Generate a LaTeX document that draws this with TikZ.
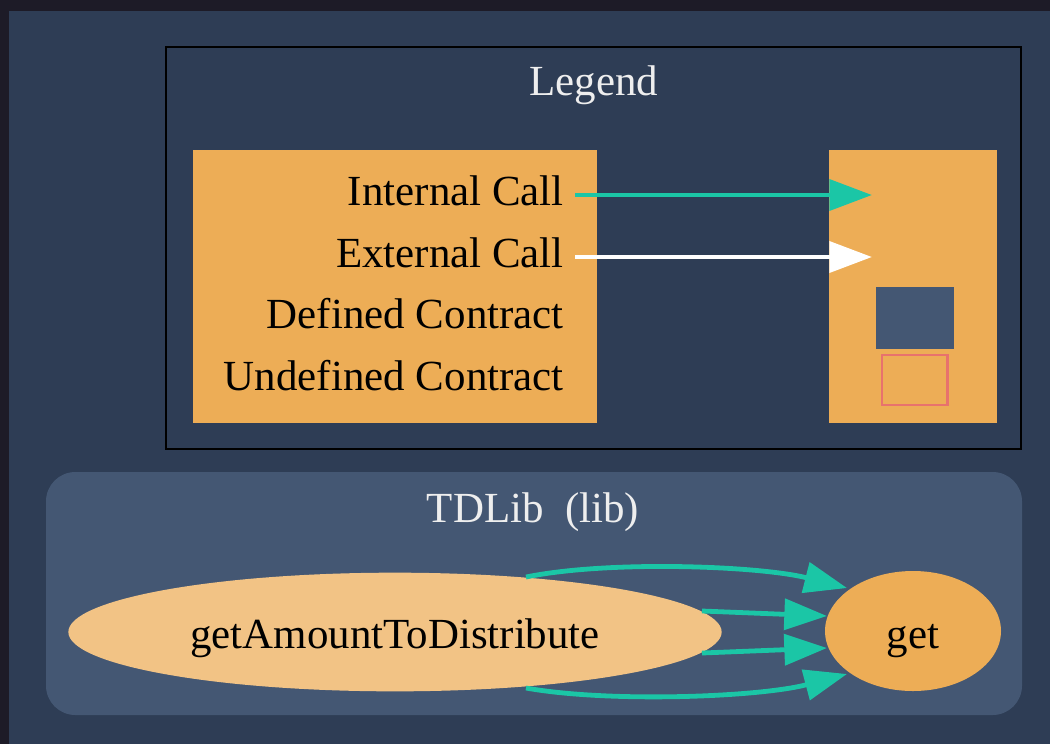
\documentclass[tikz,border=0pt]{standalone}
\usepackage{fontspec}
\setmainfont{Liberation Serif}
\usetikzlibrary{arrows.meta,shapes.geometric}
\definecolor{pagebg}{HTML}{1D1B27}
\definecolor{mainbg}{HTML}{2E3D55}
\definecolor{clusterbg}{HTML}{445773}
\definecolor{legorange}{HTML}{EDAD56}
\definecolor{nodelight}{HTML}{F2C385}
\definecolor{teal}{HTML}{1BC6A6}
\definecolor{undefred}{HTML}{E8726D}
\definecolor{titletext}{HTML}{EEEEEE}
\tikzset{
  gvfont/.style={font=\fontsize{32.2}{38}\selectfont},
  legtext/.style={gvfont, anchor=base east, inner sep=0pt, text=black},
  title/.style={gvfont, anchor=base, inner sep=0pt, text=titletext},
  gvhead/.style={-{Triangle[length=32pt,width=23pt]}},
  internal/.style={draw=teal, line width=3.6pt, gvhead},
  external/.style={draw=white, line width=3.6pt, gvhead},
  funcnode/.style={ellipse, inner sep=0pt, gvfont, text=black}
}
\begin{document}
\begin{tikzpicture}[x=0.75pt,y=-0.75pt]
\useasboundingbox (0,0) rectangle (1050,744);
\fill[pagebg] (0,0) rectangle (1050,744);
\fill[mainbg] (9,11) rectangle (1050,744);
% legend
\draw[black, line width=2pt] (166,47) rectangle (1021,449);
\node[title] (legtitle) at (594,95) {Legend};
\fill[legorange] (193,150) rectangle (597,423);
\fill[legorange] (829,150) rectangle (997,423);
\node[legtext] (lic) at (564,205) {Internal Call};
\node[legtext] (lec) at (564,267) {External Call};
\node[legtext] (ldc) at (564,328) {Defined Contract};
\node[legtext] (luc) at (564,390) {Undefined Contract};
\coordinate (ics) at (575,195);
\coordinate (ice) at (872,195);
\coordinate (ecs) at (575,257);
\coordinate (ece) at (872,257);
\draw[internal] (ics) -- (ice);
\draw[external] (ecs) -- (ece);
\node[fill=clusterbg, minimum width=58.5pt, minimum height=46.5pt, inner sep=0pt] (defbox) at (915,318) {};
\node[draw=undefred, line width=2pt, minimum width=49pt, minimum height=37.5pt, inner sep=0pt] (undefbox) at (914.5,380) {};
% cluster
\fill[clusterbg, rounded corners=22pt] (46,472) rectangle (1022,715);
\node[title] (cltitle) at (533,522) {TDLib\ \ (lib)};
\node[funcnode, fill=nodelight, minimum width=490pt, minimum height=89pt] (gatd) at (395,632) {};
\node[gvfont, anchor=base, inner sep=0pt] (gatdlabel) at (395,648) {getAmountToDistribute};
\node[funcnode, fill=legorange, minimum width=132pt, minimum height=90pt] (get) at (913,631) {};
\node[gvfont, anchor=base, inner sep=0pt] (getlabel) at (913,648) {get};
\draw[internal] ([shift={(131,-55)}]gatd.center) .. controls (610,560) and (760,566) .. ([shift={(-66,-43)}]get.center);
\draw[internal] ([shift={(307,-21)}]gatd.center) -- ([shift={(-86,-15)}]get.center);
\draw[internal] ([shift={(307,21)}]gatd.center) -- ([shift={(-86,17)}]get.center);
\draw[internal] ([shift={(131,56)}]gatd.center) .. controls (610,703) and (760,697) .. ([shift={(-66,43)}]get.center);
\end{tikzpicture}
\end{document}
